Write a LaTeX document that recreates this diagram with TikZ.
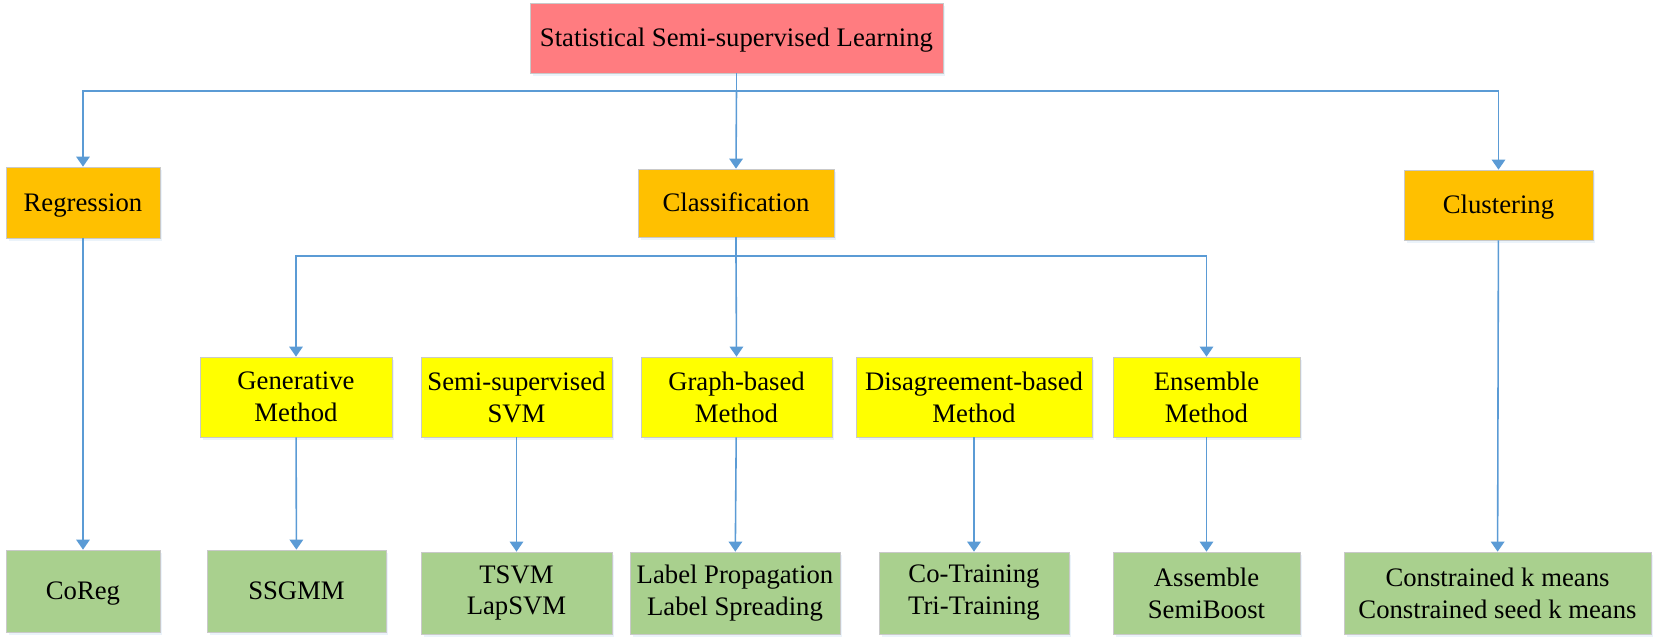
\documentclass[tikz,border=0pt]{standalone}
\usepackage{fontspec}
\setmainfont{Liberation Serif}
\usetikzlibrary{arrows.meta,shadows}

\definecolor{rootred}{HTML}{FF7C80}
\definecolor{taskorange}{HTML}{FFC000}
\definecolor{methodyellow}{HTML}{FFFF00}
\definecolor{algogreen}{HTML}{A9D08E}
\definecolor{linkblue}{HTML}{5B9BD5}
\definecolor{boxgray}{HTML}{C9C9C9}

\tikzset{
    box/.style={draw=boxgray, line width=0.4pt, rectangle, align=center, inner sep=0pt,
        font=\fontsize{15.2}{18.2}\selectfont,
        drop shadow={opacity=0.12, shadow xshift=0.05cm, shadow yshift=-0.06cm, fill=linkblue}},
    oneline/.style={text height=0.354cm, text depth=0pt},
    root/.style={box, oneline, fill=rootred},
    task/.style={box, oneline, fill=taskorange},
    method/.style={box, fill=methodyellow, minimum height=1.6cm},
    algo/.style={box, fill=algogreen, minimum height=1.64cm},
    link/.style={->, draw=linkblue, line width=0.9pt}
}

\begin{document}
\begin{tikzpicture}[x=0.02cm, y=-0.02cm, >={Triangle[width=0.27cm,length=0.2cm]}]
    \useasboundingbox (0,0) rectangle (1658,644);

    % top level
    \node (Root) [root, minimum width=8.26cm, minimum height=1.4cm] at (736.5,38) {Statistical Semi-supervised Learning};

    % tasks
    \node (Regression) [task, minimum width=3.08cm, minimum height=1.42cm] at (83,202.5) {Regression};
    \node (Classification) [task, minimum width=3.92cm, minimum height=1.36cm] at (736,203) {Classification};
    \node (Clustering) [task, minimum width=3.78cm, minimum height=1.4cm] at (1498.5,205) {Clustering};

    % methods
    \node (Generative) [method, minimum width=3.84cm] at (296,397) {Generative\\Method};
    \node (SemiSVM) [method, minimum width=3.82cm] at (516.5,397) {Semi-supervised\\SVM};
    \node (Graph) [method, minimum width=3.82cm] at (736.5,397) {Graph-based\\Method};
    \node (Disagreement) [method, minimum width=4.72cm] at (974,397) {Disagreement-based\\Method};
    \node (Ensemble) [method, minimum width=3.74cm] at (1206.5,397) {Ensemble\\Method};

    % algorithms
    \node (CoReg) [algo, oneline, minimum width=3.08cm] at (83,591) {CoReg};
    \node (SSGMM) [algo, oneline, minimum width=3.58cm] at (296.5,591) {SSGMM};
    \node (TSVM) [algo, minimum width=3.82cm] at (516.5,593) {TSVM\\LapSVM};
    \node (LabelProp) [algo, minimum width=4.2cm] at (735,593) {Label Propagation\\Label Spreading};
    \node (CoTraining) [algo, minimum width=3.8cm] at (974,593) {Co-Training\\Tri-Training};
    \node (Assemble) [algo, minimum width=3.74cm] at (1206.5,593) {Assemble\\SemiBoost};
    \node (Constrained) [algo, minimum width=6.14cm] at (1497.5,593) {Constrained k means\\Constrained seed k means};

    \coordinate (TopBus) at (736.5,91);
    \coordinate (ClassBus) at (736,256);

    \draw[link] (Root.south) -- (TopBus) -| (Regression.north);
    \draw[link] (TopBus) -| (Clustering.north);
    \draw[link] (TopBus) -- (Classification.north);

    \draw[link] (Classification.south) -- (ClassBus) -| (Generative.north);
    \draw[link] (ClassBus) -| (Ensemble.north);
    \draw[link] (ClassBus) -- (Graph.north);

    \draw[link] (Regression) -- (CoReg);
    \draw[link] (Generative) -- (SSGMM);
    \draw[link] (SemiSVM) -- (TSVM);
    \draw[link] (Graph) -- (LabelProp);
    \draw[link] (Disagreement) -- (CoTraining);
    \draw[link] (Ensemble) -- (Assemble);
    \draw[link] (Clustering) -- (Constrained);
\end{tikzpicture}
\end{document}
